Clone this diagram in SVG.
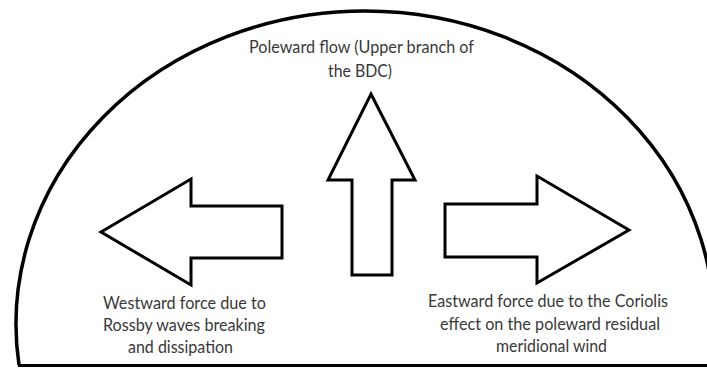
<svg xmlns="http://www.w3.org/2000/svg" width="707" height="368" viewBox="0 0 707 368">
  <style>
    .outline { fill: none; stroke: #000; stroke-width: 3.5; }
    .block { fill: #fff; stroke: #000; stroke-width: 3; stroke-linejoin: miter; }
    .label { font-family: Lato, "Open Sans", "Liberation Sans", sans-serif; font-size: 17px; fill: #383838; text-anchor: middle; }
  </style>
  <rect width="707" height="368" fill="#fff"/>

  <!-- half-dome of the atmosphere with its ground line -->
  <g id="dome">
    <path class="outline" d="M 19 365 A 349 313 0 1 1 711 365"/>
    <line x1="18" y1="365.5" x2="707" y2="365.5" stroke="#000" stroke-width="3"/>
  </g>

  <!-- block arrows -->
  <g id="connectors">
    <polygon id="arrow-west" class="block" points="101,232 191,179 191,206 282,206 282,258 191,258 191,285"/>
    <polygon id="arrow-up" class="block" points="371,94 415,180 392,180 392,275 352,275 352,180 328,180"/>
    <polygon id="arrow-east" class="block" points="629,230 537,176 537,204 445,204 445,257 537,257 537,283"/>
  </g>

  <g id="node-poleward">
    <text class="label" x="361.5" y="53" textLength="225" lengthAdjust="spacingAndGlyphs">Poleward flow (Upper branch of</text>
    <text class="label" x="360" y="77" textLength="64" lengthAdjust="spacingAndGlyphs">the BDC)</text>
  </g>

  <g id="node-westward">
    <text class="label" x="184.5" y="309" textLength="163" lengthAdjust="spacingAndGlyphs">Westward force due to</text>
    <text class="label" x="184" y="331" textLength="162" lengthAdjust="spacingAndGlyphs">Rossby waves breaking</text>
    <text class="label" x="180.5" y="353" textLength="105" lengthAdjust="spacingAndGlyphs">and dissipation</text>
  </g>

  <g id="node-eastward">
    <text class="label" x="548" y="307" textLength="240" lengthAdjust="spacingAndGlyphs">Eastward force due to the Coriolis</text>
    <text class="label" x="550" y="330" textLength="220" lengthAdjust="spacingAndGlyphs">effect on the poleward residual</text>
    <text class="label" x="551.5" y="352" textLength="111" lengthAdjust="spacingAndGlyphs">meridional wind</text>
  </g>
</svg>
